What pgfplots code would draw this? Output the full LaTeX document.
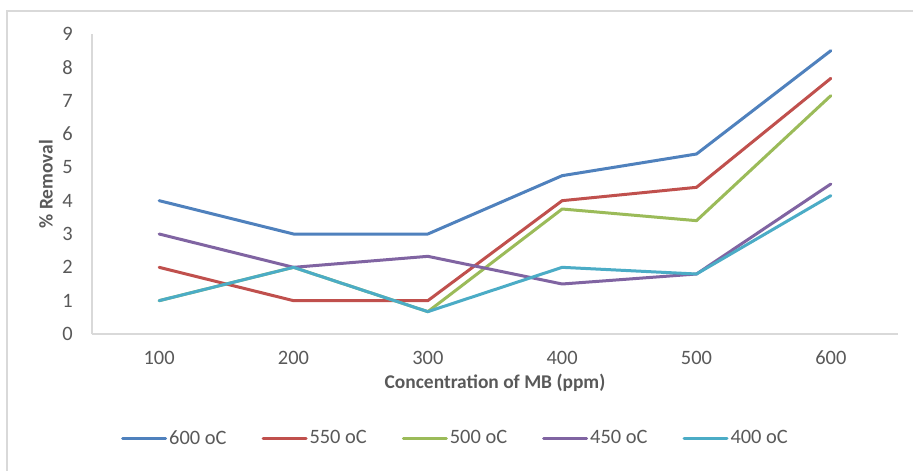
\documentclass[border=0pt]{standalone}
\usepackage{pgfplots}
\pgfplotsset{compat=1.18}
\usepackage{fontspec}
\setmainfont{Carlito}
\definecolor{cA}{HTML}{4F81BD}
\definecolor{cB}{HTML}{C0504D}
\definecolor{cC}{HTML}{9BBB59}
\definecolor{cD}{HTML}{8064A2}
\definecolor{cE}{HTML}{4BACC6}
\definecolor{txt}{HTML}{595959}
\definecolor{axl}{HTML}{D9D9D9}
\begin{document}
\begin{tikzpicture}
\useasboundingbox (-92bp,-137bp) rectangle (821bp,334bp);
\fill[white] (-92bp,-137bp) rectangle (821bp,334bp);
\draw[axl, line width=1.2bp] (-85bp,-140bp) -- (-85bp,323bp) -- (830bp,323bp);
\begin{axis}[
  at={(0,0)}, anchor=south west,
  scale only axis, width=806bp, height=300bp,
  xmin=50, xmax=650, ymin=0, ymax=9,
  xtick={100,200,300,400,500,600},
  ytick={0,1,2,3,4,5,6,7,8,9},
  axis x line*=bottom, axis y line*=left,
  axis line style={axl, line width=1.2bp, -},
  major tick length=0pt,
  font=\fontsize{20.5}{24}\selectfont,
  /pgf/number format/assume math mode=true,
  ticklabel style={txt, font=\fontsize{20.5}{24}\selectfont},
  xticklabel style={anchor=north, inner sep=0pt, yshift=-17bp},
  yticklabel style={anchor=east, inner sep=0pt, xshift=-19bp},
  xlabel={\bfseries Concentration of MB (ppm)},
  ylabel={\bfseries \% Removal},
  xlabel style={txt, font=\fontsize{19.5}{23}\selectfont, at={([yshift=-49bp]axis description cs:0.5,0)}, anchor=center},
  ylabel style={txt, font=\fontsize{19.5}{23}\selectfont, at={([xshift=-46bp]axis description cs:0,0.5)}, anchor=center},
  legend columns=5,
  legend style={draw=none, fill=none, at={([yshift=-104bp]axis description cs:0.451,0)}, anchor=center,
    font=\fontsize{20.5}{24}\selectfont, text=txt,
    nodes={inner sep=2bp},
    /tikz/every even column/.append style={column sep=33bp}},
  legend image code/.code={\draw[#1, line width=3bp] (0bp,0bp) -- (43bp,0bp);},
  every axis plot/.append style={line width=3bp, line join=round, line cap=round, mark=none},
  clip=false,
]
\addplot[cA] coordinates {(100,4) (200,3) (300,3) (400,4.75) (500,5.4) (600,8.5)};
\addlegendentry{600 oC}
\addplot[cB] coordinates {(100,2) (200,1) (300,1) (400,4) (500,4.4) (600,7.67)};
\addlegendentry{550 oC}
\addplot[cC] coordinates {(100,1) (200,2) (300,0.67) (400,3.75) (500,3.4) (600,7.15)};
\addlegendentry{500 oC}
\addplot[cD] coordinates {(100,3) (200,2) (300,2.33) (400,1.5) (500,1.8) (600,4.5)};
\addlegendentry{450 oC}
\addplot[cE] coordinates {(100,1) (200,2) (300,0.67) (400,2) (500,1.8) (600,4.15)};
\addlegendentry{400 oC}
\end{axis}
\end{tikzpicture}
\end{document}
